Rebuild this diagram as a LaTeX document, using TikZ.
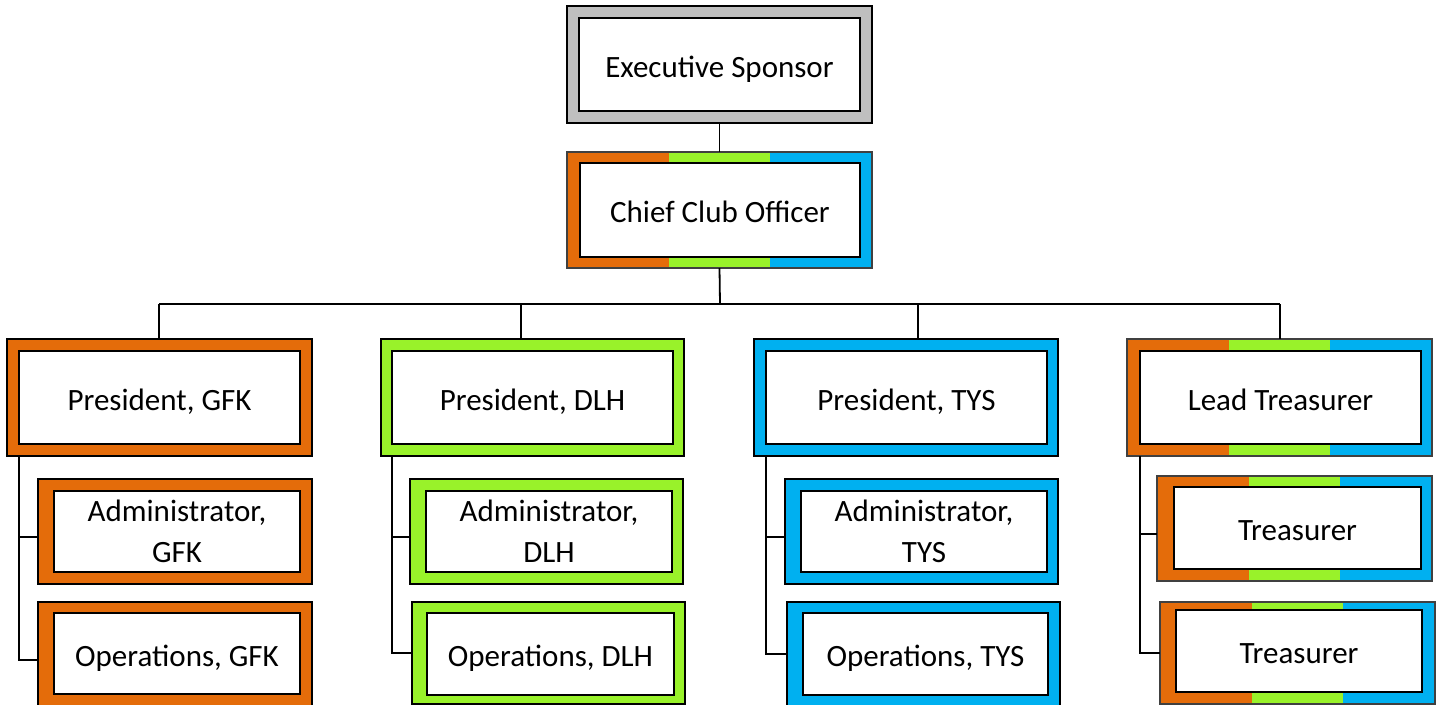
\documentclass[tikz,border=0pt]{standalone}
\usepackage{fontspec}
\setmainfont{Carlito}
\usetikzlibrary{calc}

\definecolor{cOrange}{HTML}{E46C0A}
\definecolor{cGreen}{HTML}{99F22A}
\definecolor{cBlue}{HTML}{00B0F0}
\definecolor{cGray}{HTML}{BFBFBF}

\tikzset{
  frame/.style={rectangle, inner sep=0pt, outer sep=0pt, draw=black, line width=1.8pt},
  solidframe/.style={frame, fill=#1},
  triframe/.style={frame, draw=black!75, line width=1.2pt,
    path picture={
      \fill[cOrange] (path picture bounding box.south west) rectangle
        ($(path picture bounding box.north west)!1/3!(path picture bounding box.north east)$);
      \fill[cGreen] ($(path picture bounding box.south west)!1/3!(path picture bounding box.south east)$) rectangle
        ($(path picture bounding box.north west)!2/3!(path picture bounding box.north east)$);
      \fill[cBlue] ($(path picture bounding box.south west)!2/3!(path picture bounding box.south east)$) rectangle
        (path picture bounding box.north east);
    }},
  inbox/.style={rectangle, inner sep=0pt, outer sep=0pt, draw=black, line width=2pt,
    fill=white, align=center, font=\fontsize{31}{41}\selectfont,
    text height=25pt, text depth=0pt},
  twolines/.style={text height={}, text depth={}},
  conn/.style={draw=black, line width=1.8pt}
}

% frame: name, x1, y1, x2, y2, style
\newcommand\orgframe[6]{%
  \node[#6, minimum width={#4pt-#2pt}, minimum height={#5pt-#3pt}] (#1) at ({(#2+#4)/2},{(#3+#5)/2}) {};}
% labelled white box: name, x1, y1, x2, y2, text, extra style
\newcommand\orglabel[7][]{%
  \node[inbox, #1, minimum width={#5pt-#3pt}, minimum height={#6pt-#4pt}] (#2) at ({(#3+#5)/2},{(#4+#6)/2}) {#7};}

\begin{document}
\begin{tikzpicture}[x=1pt, y=-1pt]
\clip (0,0) rectangle (1440,704);
\fill[white] (0,0) rectangle (1440,704);

% top of the chart
\orgframe{es}{567}{6}{872}{123}{solidframe=cGray}
\orglabel{esl}{579}{18}{860}{111}{Executive Sponsor}
\orgframe{cco}{567}{152}{872}{268}{triframe}
\orglabel{ccol}{580}{163}{860}{257}{Chief Club Officer}

% GFK column
\orgframe{pg}{7}{339}{312}{456}{solidframe=cOrange}
\orglabel{pgl}{19}{351}{300}{444}{President, GFK}
\orgframe{ag}{38}{479}{312}{584}{solidframe=cOrange}
\orglabel[twolines]{agl}{54}{491}{300}{572}{Administrator,\\GFK}
\orgframe{og}{38}{602}{312}{718}{solidframe=cOrange}
\orglabel{ogl}{54}{613}{300}{694}{Operations, GFK}

% DLH column
\orgframe{pd}{381}{339}{684}{456}{solidframe=cGreen}
\orglabel{pdl}{392}{351}{673}{444}{President, DLH}
\orgframe{ad}{410}{479}{683}{584}{solidframe=cGreen}
\orglabel[twolines]{adl}{426}{491}{672}{572}{Administrator,\\DLH}
\orgframe{od}{412}{602}{685}{704}{solidframe=cGreen}
\orglabel{odl}{427}{613}{674}{695}{Operations, DLH}

% TYS column
\orgframe{pt}{754}{339}{1058}{456}{solidframe=cBlue}
\orglabel{ptl}{766}{351}{1047}{444}{President, TYS}
\orgframe{at}{785}{479}{1058}{584}{solidframe=cBlue}
\orglabel[twolines]{atl}{801}{491}{1047}{572}{Administrator,\\TYS}
\orgframe{ot}{787}{602}{1060}{706}{solidframe=cBlue}
\orglabel{otl}{803}{613}{1048}{695}{Operations, TYS}

% treasury column
\orgframe{lt}{1127}{339}{1432}{456}{triframe}
\orglabel{ltl}{1140}{351}{1421}{444}{Lead Treasurer}
\orgframe{t1}{1157}{476}{1432}{581}{triframe}
\orglabel{t1l}{1174}{487}{1421}{569}{Treasurer}
\orgframe{t2}{1160}{602}{1435}{704}{triframe}
\orglabel{t2l}{1176}{610}{1422}{692}{Treasurer}

% reporting lines
\coordinate (bus) at (720,304);
\coordinate (jg) at (159,304);
\coordinate (jd) at (521,304);
\coordinate (jt) at (918,304);
\coordinate (jl) at (1280,304);
\draw[conn] (es.south) -- (cco.north);
\draw[conn] (cco.south) -- (bus);
\draw[conn] (jg) -- (jl);
\draw[conn] (jg) -- (jg |- pg.north);
\draw[conn] (jd) -- (jd |- pd.north);
\draw[conn] (jt) -- (jt |- pt.north);
\draw[conn] (jl) -- (jl |- lt.north);

\draw[conn] ([xshift=12pt]pg.south west) |- ([yshift=-5.5pt]ag.west);
\draw[conn] ([xshift=12pt]pg.south west) |- (og.west);
\draw[conn] ([xshift=11pt]pd.south west) |- ([yshift=-5.5pt]ad.west);
\draw[conn] ([xshift=11pt]pd.south west) |- (od.west);
\draw[conn] ([xshift=12pt]pt.south west) |- ([yshift=-5.5pt]at.west);
\draw[conn] ([xshift=12pt]pt.south west) |- (ot.west);
\draw[conn] ([xshift=13pt]lt.south west) |- ([yshift=-5.5pt]t1.west);
\draw[conn] ([xshift=13pt]lt.south west) |- (t2.west);
\end{tikzpicture}
\end{document}
